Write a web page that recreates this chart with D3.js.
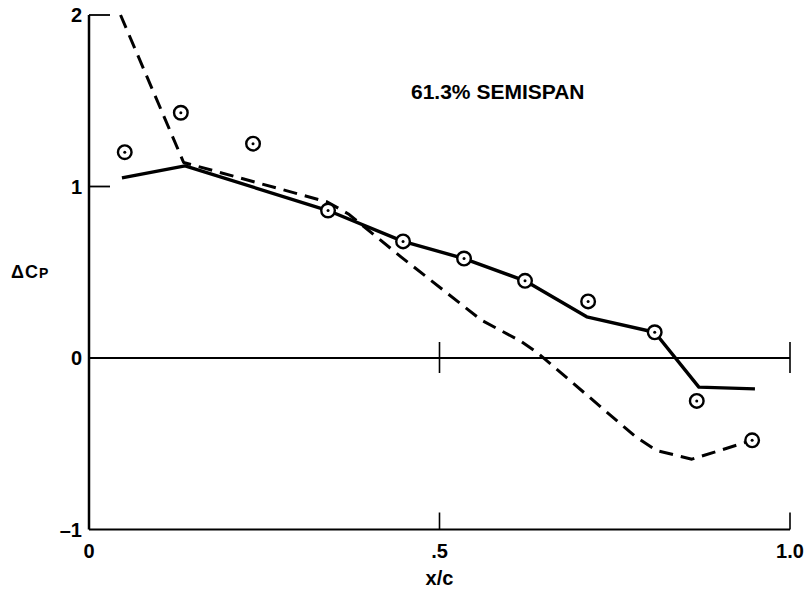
<!DOCTYPE html>
<html>
<head>
<meta charset="utf-8">
<script src="https://cdn.jsdelivr.net/npm/d3@7"></script>
<style>
  html, body { margin: 0; padding: 0; background: #fff; }
  svg { display: block; }
  text { font-family: "Liberation Sans", Arial, sans-serif; fill: #000; }
</style>
</head>
<body>
<svg id="chart" width="811" height="595"></svg>
<script>
// ---- data ----
const xTicks = [0, 0.5, 1.0];
const xTickLabels = ["0", ".5", "1.0"];
const yTicks = [-1, 0, 1, 2];
const yTickLabels = ["\u20131", "0", "1", "2"];

const pointX = [0.051, 0.131, 0.234, 0.341, 0.448, 0.535, 0.622, 0.712, 0.807, 0.867, 0.946];
const pointY = [1.20, 1.43, 1.25, 0.86, 0.68, 0.58, 0.45, 0.33, 0.15, -0.25, -0.48];

const solidX = [0.047, 0.137, 0.341, 0.448, 0.535, 0.622, 0.710, 0.807, 0.870, 0.950];
const solidY = [1.05, 1.12, 0.86, 0.68, 0.58, 0.45, 0.24, 0.15, -0.17, -0.18];

const dashX = [0.045, 0.135, 0.34, 0.37, 0.445, 0.56, 0.615, 0.64, 0.78, 0.81, 0.86, 0.946];
const dashY = [2.0, 1.14, 0.91, 0.84, 0.59, 0.22, 0.10, 0.03, -0.46, -0.54, -0.59, -0.48];

const title = "61.3% SEMISPAN";
const xLabel = "x/c";

// ---- layout ----
const svg = d3.select("#chart");
const x = d3.scaleLinear().domain([0, 1]).range([89, 790]);
const y = d3.scaleLinear().domain([-1, 2]).range([529.5, 15]);

// left axis line
svg.append("line")
  .attr("x1", x(0)).attr("x2", x(0))
  .attr("y1", y(2)).attr("y2", y(-1))
  .attr("stroke", "#000").attr("stroke-width", 2.5);

// short ticks at 1 and 2 pointing right
[1, 2].forEach(v => {
  svg.append("line")
    .attr("x1", x(0)).attr("x2", x(0) + 21)
    .attr("y1", y(v)).attr("y2", y(v))
    .attr("stroke", "#000").attr("stroke-width", 1.8);
});

// zero line with crossing ticks
svg.append("line")
  .attr("x1", x(0)).attr("x2", x(1))
  .attr("y1", y(0)).attr("y2", y(0))
  .attr("stroke", "#000").attr("stroke-width", 1.8);
[0.5, 1.0].forEach(v => {
  svg.append("line")
    .attr("x1", x(v)).attr("x2", x(v))
    .attr("y1", y(0) - 16).attr("y2", y(0) + 15)
    .attr("stroke", "#000").attr("stroke-width", 1.6);
});

// bottom axis at -1 with upward ticks
svg.append("line")
  .attr("x1", x(0)).attr("x2", x(1))
  .attr("y1", y(-1)).attr("y2", y(-1))
  .attr("stroke", "#000").attr("stroke-width", 1.8);
[0.5, 1.0].forEach(v => {
  svg.append("line")
    .attr("x1", x(v)).attr("x2", x(v))
    .attr("y1", y(-1) - 17).attr("y2", y(-1))
    .attr("stroke", "#000").attr("stroke-width", 1.6);
});

// y tick labels
yTicks.forEach((v, i) => {
  svg.append("text")
    .attr("x", x(0) - 7).attr("y", y(v))
    .attr("dy", "0.36em")
    .attr("text-anchor", "end")
    .attr("font-size", 20)
    .attr("font-weight", "bold")
    .text(yTickLabels[i]);
});

// x tick labels
xTicks.forEach((v, i) => {
  svg.append("text")
    .attr("x", x(v)).attr("y", 558)
    .attr("text-anchor", "middle")
    .attr("font-size", 20)
    .attr("font-weight", "bold")
    .text(xTickLabels[i]);
});

// x label
svg.append("text")
  .attr("x", x(0.5)).attr("y", 585)
  .attr("text-anchor", "middle")
  .attr("font-size", 20)
  .attr("font-weight", "bold")
  .text(xLabel);

// y label ΔCP
const yl = svg.append("text")
  .attr("x", 11).attr("y", 278)
  .attr("font-size", 18)
  .attr("font-weight", "bold")
  .attr("letter-spacing", 1);
yl.append("tspan").text("\u0394C");
yl.append("tspan").attr("font-size", 14).text("P");

// title
svg.append("text")
  .attr("x", 411).attr("y", 99)
  .attr("font-size", 21)
  .attr("font-weight", "bold")
  .text(title);

// lines
const solidData = solidX.map((d, i) => [d, solidY[i]]);
const dashData = dashX.map((d, i) => [d, dashY[i]]);
const line = d3.line().x(d => x(d[0])).y(d => y(d[1]));

svg.append("path")
  .attr("d", line(dashData))
  .attr("fill", "none").attr("stroke", "#000")
  .attr("stroke-width", 3)
  .attr("stroke-dasharray", "14,8")
  .attr("stroke-linejoin", "round");

svg.append("path")
  .attr("d", line(solidData))
  .attr("fill", "none").attr("stroke", "#000")
  .attr("stroke-width", 3.4)
  .attr("stroke-linejoin", "round");

// points
const pts = pointX.map((d, i) => [d, pointY[i]]);
const g = svg.append("g");
g.selectAll("circle.ring").data(pts).join("circle")
  .attr("class", "ring")
  .attr("cx", d => x(d[0])).attr("cy", d => y(d[1]))
  .attr("r", 6.8)
  .attr("fill", "#fff").attr("stroke", "#000").attr("stroke-width", 2.4);
g.selectAll("circle.dot").data(pts).join("circle")
  .attr("class", "dot")
  .attr("cx", d => x(d[0])).attr("cy", d => y(d[1]))
  .attr("r", 1.5)
  .attr("fill", "#000");
</script>
</body>
</html>
